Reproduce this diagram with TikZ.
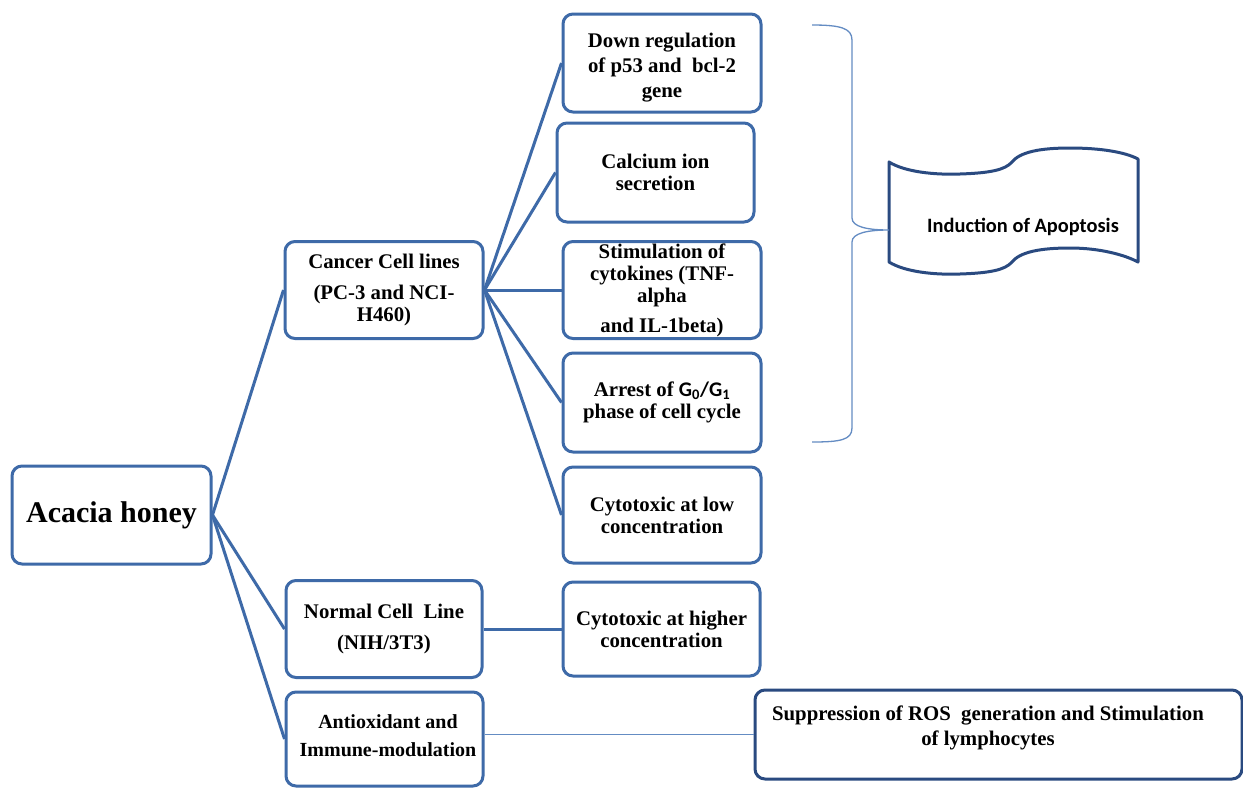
\documentclass[tikz,border=0pt]{standalone}
\usepackage{fontspec}
\setmainfont{Liberation Serif}
\newfontfamily\calfont{Carlito}
\definecolor{boxblue}{RGB}{62,106,168}
\definecolor{darkblue}{RGB}{42,74,128}
\definecolor{lightblue}{RGB}{100,140,195}
\begin{document}
\begin{tikzpicture}[x=1pt,y=-1pt,
  box/.style={draw=boxblue, line width=3pt, rounded corners=10pt, inner sep=0pt,
    align=center, font=\bfseries\fontsize{20.8}{22}\selectfont, fill=white},
  link/.style={draw=boxblue, line width=3pt},
  thin/.style={draw=lightblue, line width=1.2pt},
  txt/.style={align=center, inner sep=0pt, font=\bfseries\fontsize{20.8}{25}\selectfont}]
\useasboundingbox (0,0) rectangle (1243,788);
\fill[white] (0,0) rectangle (1243,788);

% boxes
\node[box, minimum width=199pt, minimum height=98pt, font=\bfseries\fontsize{30}{32}\selectfont] (acacia) at (111.5,515) {Acacia honey};
\node[box, minimum width=198pt, minimum height=97pt] (cancer) at (384,290) {Cancer Cell lines\\[9pt](PC-3 and NCI-\\H460)};
\node[box, minimum width=196pt, minimum height=97pt] (normal) at (384,629) {Normal Cell~ Line\\[9pt](NIH/3T3)};
\node[box, minimum width=197pt, minimum height=94pt] (antiox) at (384.5,739) {};
\node[txt, font=\bfseries\fontsize{20}{28}\selectfont] (antioxtext) at (388,736) {Antioxidant and\\Immune-modulation};

\node[box, minimum width=198pt, minimum height=98pt] (down) at (662,63) {};
\node[txt] (downtext) at (662,68) {Down regulation\\of p53 and~ bcl-2\\gene};
\node[box, minimum width=197pt, minimum height=99pt] (calcium) at (655.5,172.5) {Calcium ion\\secretion};
\node[box, minimum width=198pt, minimum height=97pt] (stim) at (662,290) {Stimulation of\\cytokines (TNF-\\alpha\\[8pt]and IL-1beta)};
\node[box, minimum width=198pt, minimum height=99pt] (arrest) at (662,402.5) {Arrest of {\calfont G\textsubscript{0}/G\textsubscript{1}}\\phase of cell cycle};
\node[box, minimum width=198pt, minimum height=96pt] (cytolow) at (662,515) {Cytotoxic at low\\concentration};
\node[box, minimum width=197pt, minimum height=94pt] (cytohigh) at (661.5,629) {Cytotoxic at higher\\concentration};

\node[box, draw=darkblue, minimum width=487pt, minimum height=89pt] (supp) at (998.5,734.5) {};
\node[txt] (supptext) at (988,727.5) {Suppression of ROS~ generation and Stimulation\\of lymphocytes};

% connectors
\draw[link] (acacia.east) -- (cancer.west);
\draw[link] (acacia.east) -- (normal.west);
\draw[link] (acacia.east) -- (antiox.west);
\draw[link] (cancer.east) -- (down.west);
\draw[link] (cancer.east) -- (calcium.west);
\draw[link] (cancer.east) -- (stim.west);
\draw[link] (cancer.east) -- (arrest.west);
\draw[link] (cancer.east) -- (cytolow.west);
\draw[link] (normal.east) -- (cytohigh.west);
\draw[thin] (antiox.east |- supp.west) -- (supp.west);

% tape shape
\draw[darkblue, line width=3pt, line join=round, fill=white]
  (889,162) .. controls (905,172) and (935,175) .. (960,174)
  .. controls (990,173) and (1005,170) .. (1012,162)
  .. controls (1020,152) and (1040,148) .. (1070,148)
  .. controls (1100,148) and (1125,152) .. (1138,159)
  -- (1138,262)
  .. controls (1125,255) and (1100,248) .. (1070,248)
  .. controls (1040,248) and (1020,252) .. (1012,262)
  .. controls (1005,270) and (990,273) .. (960,274)
  .. controls (935,275) and (905,272) .. (889,262)
  -- cycle;
\node[inner sep=0pt, font=\calfont\bfseries\fontsize{20.4}{24}\selectfont] (apop) at (1023,227) {Induction of Apoptosis};
\coordinate (tip) at (889,230);

% brace
\draw[lightblue, line width=1.3pt]
  (812,25) .. controls (840,25) and (852,28) .. (852,40)
  -- (852,218) .. controls (852,227) and (868,230) .. (tip)
  .. controls (868,230) and (852,233) .. (852,242)
  -- (852,428) .. controls (852,440) and (840,442) .. (812,442);
\end{tikzpicture}
\end{document}
